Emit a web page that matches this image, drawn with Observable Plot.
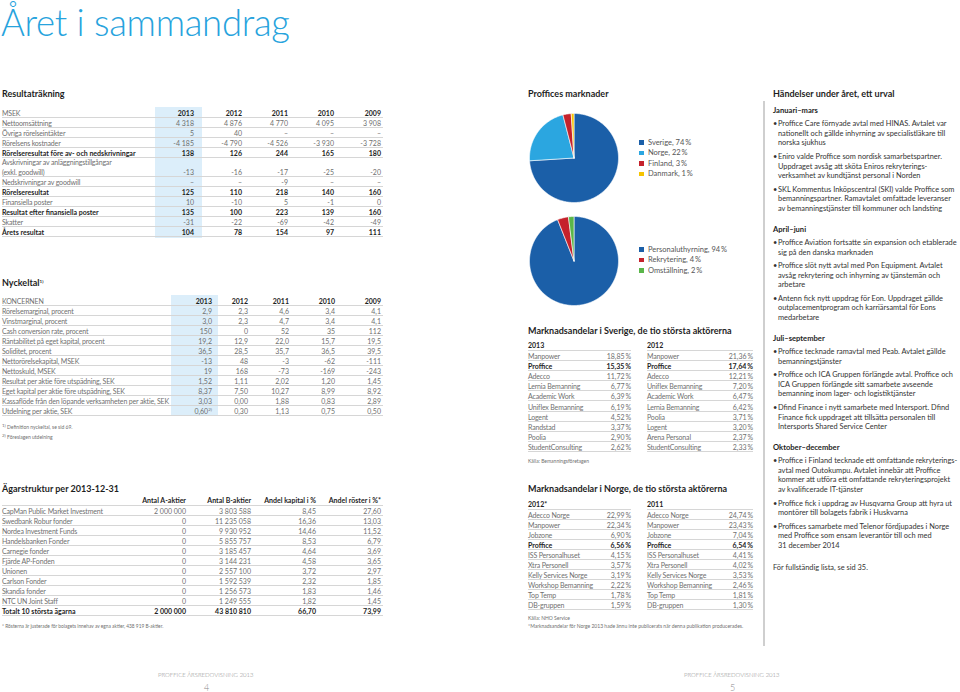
<!DOCTYPE html>
<html><head><meta charset="utf-8">
<script src="https://cdn.jsdelivr.net/npm/d3@7"></script>
<script src="https://cdn.jsdelivr.net/npm/@observablehq/plot@0.6"></script>
<style>
html,body{margin:0;padding:0;background:#fff;}
#page{position:relative;width:960px;height:692px;overflow:hidden;font-family:Lato,"Open Sans",sans-serif;color:#6f6f6f;}
.abs{position:absolute;white-space:nowrap;}
.h2{font-weight:700;color:#1e1e1e;font-size:9px;}
.row{position:absolute;border-bottom:0.6px solid #d6d6d6;font-size:7px;box-sizing:border-box;}
.row span{position:absolute;white-space:pre;}
.row span.lab{letter-spacing:-0.17px;}
.b{font-weight:700;color:#1e1e1e;}
.row span.lab.b{letter-spacing:0;}
sup{font-size:4.5px;vertical-align:top;position:relative;top:-1px;}
.ev{font-size:7.4px;line-height:9.6px;color:#333;}
.ev .hd{font-weight:700;color:#1e1e1e;font-size:7.6px;line-height:10px;}
.ev .bl{position:relative;padding-left:5px;white-space:pre;}
.ev .bl::before{content:"•";position:absolute;left:0;top:0;}
</style></head>
<body><div id="page"></div>
<script>
// ---------- DATA ----------
const years = ["2013","2012","2011","2010","2009"];
const resLabels = ["Nettoomsättning","Övriga rörelseintäkter","Rörelsens kostnader","Rörelseresultat före av- och nedskrivningar","Avskrivningar av anläggningstillgångar\n(exkl. goodwill)","Nedskrivningar av goodwill","Rörelseresultat","Finansiella poster","Resultat efter finansiella poster","Skatter","Årets resultat"];
const resBold = [false,false,false,true,false,false,true,false,true,false,true];
const resValues = [
 ["4 318","4 876","4 770","4 095","3 908"],
 ["5","40","–","–","–"],
 ["-4 185","-4 790","-4 526","-3 930","-3 728"],
 ["138","126","244","165","180"],
 ["-13","-16","-17","-25","-20"],
 ["–","–","-9","–","–"],
 ["125","110","218","140","160"],
 ["10","-10","5","-1","0"],
 ["135","100","223","139","160"],
 ["-31","-22","-69","-42","-49"],
 ["104","78","154","97","111"]];
const keyLabels = ["Rörelsemarginal, procent","Vinstmarginal, procent","Cash conversion rate, procent","Räntabilitet på eget kapital, procent","Soliditet, procent","Nettorörelsekapital, MSEK","Nettoskuld, MSEK","Resultat per aktie före utspädning, SEK","Eget kapital per aktie före utspädning, SEK","Kassaflöde från den löpande verksamheten per aktie, SEK","Utdelning per aktie, SEK"];
const keyValues = [
 ["2,9","2,3","4,6","3,4","4,1"],
 ["3,0","2,3","4,7","3,4","4,1"],
 ["150","0","52","35","112"],
 ["19,2","12,9","22,0","15,7","19,5"],
 ["36,5","28,5","35,7","36,5","39,5"],
 ["-13","48","-3","-62","-111"],
 ["19","168","-73","-169","-243"],
 ["1,52","1,11","2,02","1,20","1,45"],
 ["8,37","7,50","10,27","8,99","8,92"],
 ["3,03","0,00","1,88","0,83","2,89"],
 ["0,60","0,30","1,13","0,75","0,50"]];
const ownHeaders = ["Antal A-aktier","Antal B-aktier","Andel kapital i %","Andel röster i %*"];
const owners = ["CapMan Public Market Investment","Swedbank Robur fonder","Nordea Investment Funds","Handelsbanken Fonder","Carnegie fonder","Fjärde AP-Fonden","Unionen","Carlson Fonder","Skandia fonder","NTC UN Joint Staff","Totalt 10 största ägarna"];
const ownValues = [
 ["2 000 000","3 803 588","8,45","27,60"],
 ["0","11 235 058","16,36","13,03"],
 ["0","9 930 952","14,46","11,52"],
 ["0","5 855 757","8,53","6,79"],
 ["0","3 185 457","4,64","3,69"],
 ["0","3 144 231","4,58","3,65"],
 ["0","2 557 100","3,72","2,97"],
 ["0","1 592 539","2,32","1,85"],
 ["0","1 256 573","1,83","1,46"],
 ["0","1 249 555","1,82","1,45"],
 ["2 000 000","43 810 810","66,70","73,99"]];
const marketNames = ["Sverige","Norge","Finland","Danmark"];
const marketShares = [74,22,3,1];
const marketColors = ["#1b5fa8","#2ba6e0","#c5222c","#f6c400"];
const serviceNames = ["Personaluthyrning","Rekrytering","Omställning"];
const serviceShares = [94,4,2];
const serviceColors = ["#1b5fa8","#c5222c","#5ab649"];
const se13Names = ["Manpower","Proffice","Adecco","Lernia Bemanning","Academic Work","Uniflex Bemanning","Logent","Randstad","Poolia","StudentConsulting"];
const se13Values = [18.85,15.35,11.72,6.77,6.39,6.19,4.52,3.37,2.90,2.62];
const se12Names = ["Manpower","Proffice","Adecco","Uniflex Bemanning","Academic Work","Lernia Bemanning","Poolia","Logent","Arena Personal","StudentConsulting"];
const se12Values = [21.36,17.64,12.21,7.20,6.47,6.42,3.71,3.20,2.37,2.33];
const no12Names = ["Adecco Norge","Manpower","Jobzone","Proffice","ISS Personalhuset","Xtra Personell","Kelly Services Norge","Workshop Bemanning","Top Temp","DB-gruppen"];
const no12Values = [22.99,22.34,6.90,6.56,4.15,3.57,3.19,2.22,1.78,1.59];
const no11Names = ["Adecco Norge","Manpower","Jobzone","Proffice","ISS Personalhuset","Xtra Personell","Kelly Services Norge","Workshop Bemanning","Top Temp","DB-gruppen"];
const no11Values = [24.74,23.43,7.04,6.54,4.41,4.02,3.53,2.46,1.81,1.30];
const events = [
 ["Januari–mars", [
  ["Proffice Care förnyade avtal med HINAS. Avtalet var","nationellt och gällde inhyrning av specialistläkare till","norska sjukhus"],
  ["Eniro valde Proffice som nordisk samarbetspartner.","Uppdraget avsåg att sköta Eniros rekryterings-","verksamhet av kundtjänst personal i Norden"],
  ["SKL Kommentus Inköpscentral (SKI) valde Proffice som","bemanningspartner. Ramavtalet omfattade leveranser","av bemanningstjänster till kommuner och landsting"]]],
 ["April–juni", [
  ["Proffice Aviation fortsatte sin expansion och etablerade","sig på den danska marknaden"],
  ["Proffice slöt nytt avtal med Pon Equipment. Avtalet","avsåg rekrytering och inhyrning av tjänstemän och","arbetare"],
  ["Antenn fick nytt uppdrag för Eon. Uppdraget gällde","outplacementprogram och karriärsamtal för Eons","medarbetare"]]],
 ["Juli–september", [
  ["Proffice tecknade ramavtal med Peab. Avtalet gällde","bemanningstjänster"],
  ["Proffice och ICA Gruppen förlängde avtal. Proffice och","ICA Gruppen förlängde sitt samarbete avseende","bemanning inom lager- och logistiktjänster"],
  ["Dfind Finance i nytt samarbete med Intersport. Dfind","Finance fick uppdraget att tillsätta personalen till","Intersports Shared Service Center"]]],
 ["Oktober–december", [
  ["Proffice i Finland tecknade ett omfattande rekryterings-","avtal med Outokumpu. Avtalet innebär att Proffice","kommer att utföra ett omfattande rekryteringsprojekt","av kvalificerade IT-tjänster"],
  ["Proffice fick i uppdrag av Husqvarna Group att hyra ut","montörer till bolagets fabrik i Huskvarna"],
  ["Proffices samarbete med Telenor fördjupades i Norge","med Proffice som ensam leverantör till och med","31 december 2014"]]]
];

// ---------- HELPERS ----------
const page = document.getElementById("page");
function el(parent, tag, cls, css, html){
  const e=document.createElement(tag); if(cls) e.className=cls;
  if(css) Object.assign(e.style,css); if(html!=null) e.innerHTML=html; parent.appendChild(e); return e;
}
function text(x,y,html,cls,css){ // y = vertical centre
  return el(page,"div","abs "+(cls||""),Object.assign({left:x+"px",top:(y-6)+"px",lineHeight:"12px"},css||{}),html);
}
function table(x, top, width, cols, rows){
  let y=top;
  for(const r of rows){
    const d=el(page,"div","row",{left:x+"px",top:y+"px",width:width+"px",height:r.h+"px"});
    const two=r.cells[0].includes("\n");
    const lh = two? r.h/2 : r.h;
    el(d,"span","lab"+(r.bold?" b":""),{left:"0",top:"0",lineHeight:lh+"px"},r.cells[0]);
    r.cells.slice(1).forEach((c,i)=>{
      el(d,"span",(r.bold||r.boldVals)?"b":"",{right:(width-cols[i])+"px",top:(two?lh:0)+"px",lineHeight:lh+"px"},c);
    });
    y+=r.h;
  }
  return y;
}
const loc = d3.formatLocale({decimal:",",thousands:" ",grouping:[3],currency:["","kr"]});
const pct = v => loc.format(".2f")(v)+"\u2009%";

// ---------- LEFT PAGE ----------
text(1,22,"Året i sammandrag","",{fontSize:"36.5px",fontWeight:"300",color:"#27a3dd",lineHeight:"44px",top:"0px",letterSpacing:"-0.3px"});

text(2,94,"Resultaträkning","h2");
el(page,"div","",{position:"absolute",left:"155px",top:"107px",width:"47px",height:"131px",background:"#dceefa"});
{
  const rows=[{cells:["MSEK",...years],h:10,boldVals:true}];
  resLabels.forEach((l,i)=>rows.push({cells:[l,...resValues[i]],h:l.includes("\n")?19:10,bold:resBold[i]}));
  table(2,108,381,[192,240,286,332,379],rows);
}

text(2,283,"Nyckeltal<sup>1)</sup>","h2");
el(page,"div","",{position:"absolute",left:"171px",top:"295px",width:"47px",height:"121px",background:"#dceefa"});
{
  const rows=[{cells:["KONCERNEN",...years],h:10,boldVals:true}];
  keyLabels.forEach((l,i)=>rows.push({cells:[l,...keyValues[i].map((v,j)=>(i===keyLabels.length-1&&j===0)?v+"<sup>2)</sup>":v)],h:10}));
  table(2,296,381,[210,246,287,333,379],rows);
}
text(2,427,"<sup>1)</sup> Definition nyckeltal, se sid 69.","",{fontSize:"5px"});
text(2,437,"<sup>2)</sup> Föreslagen utdelning","",{fontSize:"5px"});

text(2,489,"Ägarstruktur per 2013-12-31","h2");
{
  const rows=[{cells:["",...ownHeaders],h:11,boldVals:true}];
  owners.forEach((o,i)=>rows.push({cells:[o,...ownValues[i]],h:10,bold:i===owners.length-1}));
  table(2,494.5,381,[184,249,314,379],rows);
}
text(2,626,"* Rösterna är justerade för bolagets innehav av egna aktier, 438 919 B-aktier.","",{fontSize:"4.8px"});

text(158,675,"PROFFICE ÅRSREDOVISNING 2013","",{fontSize:"6px",color:"#8a8a8a",fontWeight:"300"});
text(204,688,"4","",{fontSize:"9px",color:"#8a8a8a",fontWeight:"300"});

// ---------- RIGHT PAGE ----------
text(528,94,"Proffices marknader","h2");

function pie(names, shares, colors, left, top, size){
  const arcs = d3.pie().sort(null).value(d=>d)(shares);
  const pts = [];
  arcs.forEach((a,i)=>{
    const key=names[i];
    pts.push({key,x:0,y:0});
    const n=Math.max(2,Math.ceil((a.endAngle-a.startAngle)/(Math.PI/180)));
    for(let k=0;k<=n;k++){
      const t=a.startAngle+(a.endAngle-a.startAngle)*k/n;
      pts.push({key,x:Math.sin(t),y:Math.cos(t)});
    }
    pts.push({key,x:0,y:0});
  });
  const chart = Plot.plot({
    width:size,height:size,margin:0,
    x:{domain:[-1,1],axis:null},y:{domain:[-1,1],axis:null},
    color:{domain:names,range:colors},
    style:{background:"transparent",overflow:"visible"},
    marks:[Plot.line(pts,{x:"x",y:"y",z:"key",fill:"key",stroke:"white",strokeWidth:0.6})]
  });
  chart.style.position="absolute"; chart.style.left=left+"px"; chart.style.top=top+"px";
  page.appendChild(chart);
}
pie(marketNames,marketShares,marketColors,528.5,113,89);
pie(serviceNames,serviceShares,serviceColors,528.5,216,89);

function legend(names, shares, colors, x, ys){
  names.forEach((n,i)=>{
    el(page,"div","",{position:"absolute",left:x+"px",top:(ys[i]-2.2)+"px",width:"4.5px",height:"4.5px",background:colors[i]});
    text(x+9,ys[i],n+", "+shares[i]+"\u2009%","",{fontSize:"7.5px",color:"#555"});
  });
}
legend(marketNames,marketShares,marketColors,639,[142.5,153,163.5,174]);
legend(serviceNames,serviceShares,serviceColors,639,[249.5,260,270.5]);

function shareTable(x,top,width,year,names,vals,rowH,boldName){
  const rows=[{cells:[year,""],h:11,bold:true}];
  names.forEach((n,i)=>rows.push({cells:[n,pct(vals[i])],h:rowH,bold:n===boldName}));
  table(x,top,width,[width],rows);
}
text(528,331,"Marknadsandelar i Sverige, de tio största aktörerna","h2");
shareTable(528,339.5,103,"2013",se13Names,se13Values,10.2,"Proffice");
shareTable(647,339.5,106,"2012",se12Names,se12Values,10.2,"Proffice");
text(528,461,"Källa: Bemanningsföretagen","",{fontSize:"5px"});

text(528,489,"Marknadsandelar i Norge, de tio största aktörerna","h2");
shareTable(528,498.5,103,"2012*",no12Names,no12Values,10,"Proffice");
shareTable(647,498.5,106,"2011",no11Names,no11Values,10,"Proffice");
text(528,618,"Källa: NHO Service","",{fontSize:"5px"});
text(528,626,"*Marknadsandelar för Norge 2013 hade ännu inte publicerats när denna publikation producerades.","",{fontSize:"5px"});

el(page,"div","",{position:"absolute",left:"763px",top:"101px",width:"1.5px",height:"545px",background:"#cfcfcf"});

text(773,94,"Händelser under året, ett urval","h2");
{
  const col=el(page,"div","ev",{position:"absolute",left:"773px",top:"105px",width:"186px"});
  events.forEach(([hd,bullets],si)=>{
    el(col,"div","hd",{marginTop:si===0?"0px":"10.2px"},hd);
    bullets.forEach((b,bi)=>{
      el(col,"div","bl",{marginTop:bi===0?"4.2px":"4px"},b.join("\n"));
    });
  });
  el(col,"div","",{marginTop:"12.6px"},"För fullständig lista, se sid 35.");
}

text(684,675,"PROFFICE ÅRSREDOVISNING 2013","",{fontSize:"6px",color:"#8a8a8a",fontWeight:"300"});
text(730,688,"5","",{fontSize:"9px",color:"#8a8a8a",fontWeight:"300"});
</script></body></html>
